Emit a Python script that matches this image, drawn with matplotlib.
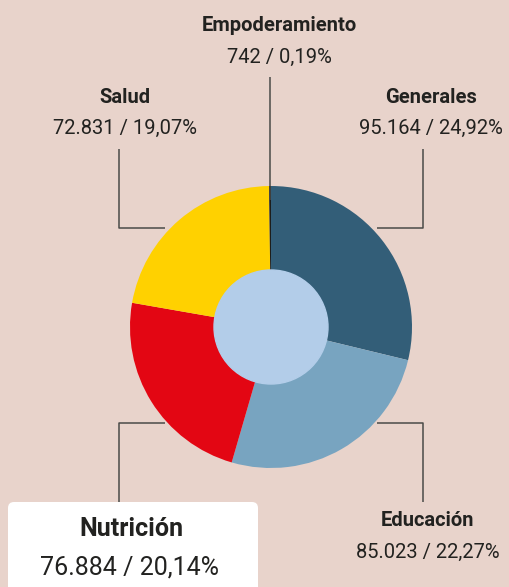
import matplotlib.pyplot as plt
from matplotlib.patches import FancyBboxPatch, Circle

# datos
categorias = ['Generales', 'Educación', 'Nutrición', 'Salud', 'Empoderamiento']
valores = [95164, 85023, 76884, 72831, 742]
etiquetas = ['95.164 / 24,92%', '85.023 / 22,27%', '76.884 / 20,14%',
             '72.831 / 19,07%', '742 / 0,19%']
colores = ['#335e78', '#78a4c0', '#e30613', '#ffd100', '#1d1d1b']

bg = '#e8d3cb'
txt = '#222220'
H = 587

fig = plt.figure(figsize=(5.1, 5.87), dpi=100, facecolor=bg)
ax = fig.add_axes([0, 0, 1, 1])
ax.set_facecolor(bg)

# donut
ax.pie(valores, colors=colores, startangle=90, counterclock=False,
       center=(271, H - 327), radius=141, frame=True,
       wedgeprops=dict(linewidth=0))
ax.add_patch(Circle((271, H - 327), 57, color='#b3cde9', zorder=3))

ax.set_xlim(0, 510)
ax.set_ylim(0, H)
ax.set_aspect('equal')
ax.axis('off')

# lineas guia
lc = '#4a4a48'
lw = 1.1
def linea(xs, ys):
    ax.plot(xs, [H - y for y in ys], color=lc, lw=lw, zorder=1, solid_capstyle='butt')

linea([119, 119, 165], [149, 228, 228])
linea([423, 423, 377], [149, 228, 228])
linea([119, 119, 165], [502, 423, 423])
linea([423, 423, 377], [502, 423, 423])
linea([270, 270], [77, 200])

fuente = 'Roboto'

def rotulo(x, y1, y2, nombre, valor, s=14.5):
    ax.text(x, H - y1, nombre, ha='center', va='center', fontsize=s,
            fontweight='bold', color=txt, family=fuente)
    ax.text(x, H - y2, valor, ha='center', va='center', fontsize=s,
            color=txt, family=fuente)

rotulo(279, 25, 57, categorias[4], etiquetas[4])
rotulo(125, 97, 128, categorias[3], etiquetas[3])
rotulo(431, 97, 128, categorias[0], etiquetas[0])
rotulo(428, 520, 552, categorias[1], etiquetas[1])

# caja blanca para Nutrición
caja = FancyBboxPatch((8, H - 600), 250, 98, boxstyle='round,pad=0,rounding_size=6',
                      facecolor='white', edgecolor='none', zorder=2)
ax.add_patch(caja)
ax.text(131, H - 529, categorias[2], ha='center', va='center', fontsize=18,
        fontweight='bold', color=txt, family=fuente, zorder=4)
ax.text(130, H - 567, etiquetas[2], ha='center', va='center', fontsize=18,
        color=txt, family=fuente, zorder=4)

fig.savefig('out.png', dpi=100, facecolor=bg)
